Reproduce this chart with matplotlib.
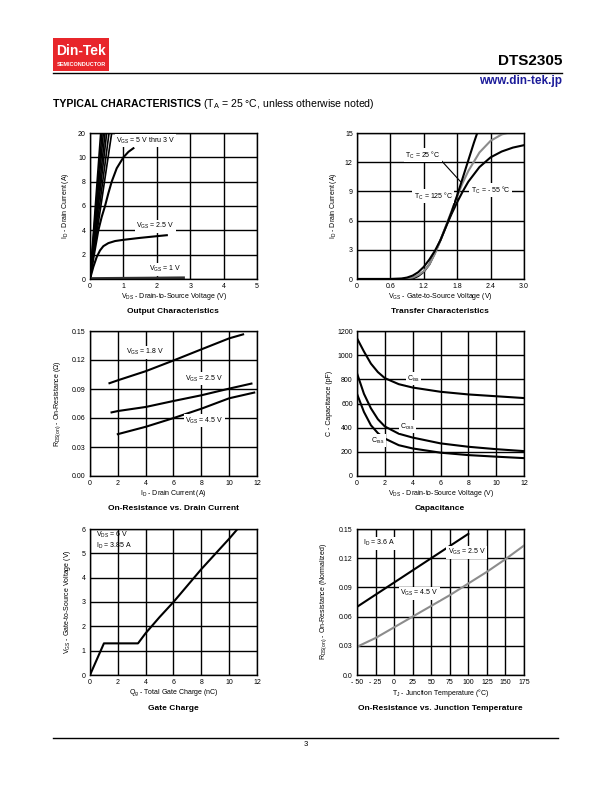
import matplotlib
matplotlib.use("Agg")
import matplotlib.pyplot as plt
from matplotlib.patches import Rectangle
from matplotlib.lines import Line2D

plt.rcParams['font.family'] = ['Liberation Sans', 'DejaVu Sans']
plt.rcParams['mathtext.fontset'] = 'custom'
plt.rcParams['mathtext.rm'] = 'Liberation Sans'
plt.rcParams['mathtext.it'] = 'Liberation Sans:italic'
plt.rcParams['mathtext.bf'] = 'Liberation Sans:bold'

# ---------------- data ----------------
# Output characteristics
out_xticks = [0, 1, 2, 3, 4, 5]
out_yticks = [0, 2, 4, 6, 8, 10, 12]
out_ytick_labels = ['0', '2', '4', '6', '8', '10', '20']
out_steep_x_end = [0.32, 0.36, 0.40, 0.45, 0.50, 0.57, 0.65]
out_steep_y_end = 12
out_v3_x = [0, 0.12, 0.25, 0.35, 0.45, 0.55, 0.65, 0.8, 1.0, 1.15, 1.3]
out_v3_y = [0, 2.0, 4.0, 5.1, 6.0, 7.05, 8.0, 9.1, 10.0, 10.45, 10.75]
out_v25_x = [0, 0.1, 0.2, 0.3, 0.4, 0.55, 0.75, 1.0, 1.5, 2.0, 2.3]
out_v25_y = [0, 1.0, 1.8, 2.35, 2.7, 2.95, 3.12, 3.22, 3.38, 3.52, 3.6]
out_v1_x = [0, 1.0, 2.0, 2.8]
out_v1_y = [0.04, 0.06, 0.08, 0.1]

# Transfer characteristics
tr_xticks = [0, 0.6, 1.2, 1.8, 2.4, 3.0]
tr_xtick_labels = ['0', '0.6', '1.2', '1.8', '2.4', '3.0']
tr_yticks = [0, 3, 6, 9, 12, 15]
tr_steep_x = [0, 0.6, 0.8, 0.9, 1.0, 1.1, 1.2, 1.3, 1.4, 1.5, 1.6, 1.7, 1.8, 1.9, 2.0, 2.1, 2.16]
tr_steep_y = [0, 0, 0.05, 0.15, 0.35, 0.7, 1.25, 2.0, 2.9, 4.0, 5.4, 6.9, 8.6, 10.4, 12.2, 14.0, 15.0]
tr_gray_x = [0, 0.8, 0.9, 1.0, 1.1, 1.2, 1.3, 1.4, 1.5, 1.6, 1.7, 1.8, 1.9, 2.0, 2.2, 2.4, 2.6, 2.7]
tr_gray_y = [0, 0, 0.05, 0.15, 0.4, 0.8, 1.5, 2.6, 4.0, 5.5, 7.0, 8.5, 9.9, 11.1, 13.0, 14.2, 14.85, 15.0]
tr_flat_x = [0, 0.9, 1.0, 1.1, 1.2, 1.3, 1.4, 1.5, 1.6, 1.7, 1.8, 1.9, 2.0, 2.2, 2.4, 2.6, 2.8, 3.0]
tr_flat_y = [0, 0, 0.05, 0.3, 0.75, 1.5, 2.7, 4.0, 5.4, 6.7, 7.9, 9.0, 10.0, 11.5, 12.5, 13.1, 13.5, 13.75]

# On-resistance vs drain current
rid_xticks = [0, 2, 4, 6, 8, 10, 12]
rid_yticks = [0.0, 0.03, 0.06, 0.09, 0.12, 0.15]
rid_ytick_labels = ['0.00', '0.03', '0.06', '0.09', '0.12', '0.15']
rid_v18_x = [1.4, 2, 4, 6, 8, 10, 11.0]
rid_v18_y = [0.096, 0.099, 0.1084, 0.1195, 0.131, 0.1424, 0.1465]
rid_v25_x = [1.55, 2, 4, 6, 8, 10, 11.6]
rid_v25_y = [0.0658, 0.0672, 0.0714, 0.0776, 0.0835, 0.0904, 0.0956]
rid_v45_x = [2.0, 4, 6, 8, 10, 11.8]
rid_v45_y = [0.0433, 0.0509, 0.0599, 0.0696, 0.0804, 0.0863]

# Capacitance
cap_xticks = [0, 2, 4, 6, 8, 10, 12]
cap_yticks = [0, 200, 400, 600, 800, 1000, 1200]
cap_x = [0, 0.5, 1, 1.5, 2, 3, 4, 6, 8, 10, 12]
cap_ciss = [1140, 1030, 930, 860, 810, 760, 732, 697, 675, 660, 645]
cap_coss = [850, 680, 560, 470, 410, 350, 318, 270, 242, 222, 206]
cap_crss = [680, 530, 420, 355, 310, 255, 228, 193, 173, 160, 148]

# Gate charge
gc_xticks = [0, 2, 4, 6, 8, 10, 12]
gc_yticks = [0, 1, 2, 3, 4, 5, 6]
gc_x = [0, 1.0, 3.45, 4.0, 5.0, 6.0, 8.0, 10.0, 10.6]
gc_y = [0, 1.3, 1.3, 1.72, 2.38, 3.0, 4.35, 5.6, 6.0]

# On-resistance vs junction temperature
rt_xticks = [-50, -25, 0, 25, 50, 75, 100, 125, 150, 175]
rt_xtick_labels = ['- 50', '- 25', '0', '25', '50', '75', '100', '125', '150', '175']
rt_yticks = [0.0, 0.03, 0.06, 0.09, 0.12, 0.15]
rt_ytick_labels = ['0.0', '0.03', '0.06', '0.09', '0.12', '0.15']
rt_v25_x = [-50, 0, 50, 100]
rt_v25_y = [0.070, 0.095, 0.120, 0.145]
rt_v45_x = [-50, -25, 0, 25, 50, 75, 100, 125, 150, 175]
rt_v45_y = [0.029, 0.038, 0.049, 0.060, 0.071, 0.082, 0.094, 0.106, 0.119, 0.133]

# ---------------- figure ----------------
W, H = 612, 792
fig = plt.figure(figsize=(W / 100, H / 100), dpi=100)
fig.patch.set_facecolor('white')

def fx(px):
    return px / W

def fy(py):
    return 1 - py / H

TICK_FS = 5
LAB_FS = 5
LW = 1.5
GRAY = '#8c8c8c'

def make_ax(left, top, right, bottom, xlim, ylim, xticks, yticks, xtl=None, ytl=None):
    ax = fig.add_axes([fx(left), fy(bottom), fx(right - left), (bottom - top) / H])
    ax.set_xlim(*xlim)
    ax.set_ylim(*ylim)
    ax.set_xticks(xticks)
    ax.set_yticks(yticks)
    if xtl is not None:
        ax.set_xticklabels(xtl)
    if ytl is not None:
        ax.set_yticklabels(ytl)
    ax.tick_params(length=0, labelsize=TICK_FS, pad=3, colors='black')
    ax.grid(True, color='black', linewidth=1.0)
    ax.set_axisbelow(True)
    for s in ax.spines.values():
        s.set_linewidth(1.0)
    return ax

def label(ax, x, y, s, ha='left'):
    ax.text(x, y, s, fontsize=LAB_FS, ha=ha, va='center', zorder=5,
            bbox=dict(facecolor='white', edgecolor='none', pad=1.0))

def axlabels(ax, xl, yl, ylx):
    ax.set_xlabel(xl, fontsize=LAB_FS)
    ax.xaxis.set_label_coords(0.5, -0.085)
    ax.set_ylabel(yl, fontsize=LAB_FS)
    ax.yaxis.set_label_coords(ylx, 0.5)

L0, L1 = 90, 257
R0, R1 = 357, 524
ROWS = [(133, 279), (331, 476), (529, 675)]

# 1. Output characteristics
ax1 = make_ax(L0, ROWS[0][0], L1, ROWS[0][1], (0, 5), (0, 12), out_xticks, out_yticks,
              ytl=out_ytick_labels)
for xe in out_steep_x_end:
    ax1.plot([0, xe], [0, out_steep_y_end], color='black', lw=1.2, solid_capstyle='butt')
ax1.plot(out_v3_x, out_v3_y, color='black', lw=LW)
ax1.plot(out_v25_x, out_v25_y, color='black', lw=LW)
ax1.plot(out_v1_x, out_v1_y, color='#333333', lw=2.0)
label(ax1, 0.78, 11.35, r'V$_{\rm GS}$ = 5 V thru 3 V')
label(ax1, 1.38, 4.35, r'V$_{\rm GS}$ = 2.5 V')
label(ax1, 1.78, 0.8, r'V$_{\rm GS}$ = 1 V')
axlabels(ax1, r'V$_{\rm DS}$ - Drain-to-Source Voltage (V)', r'I$_{\rm D}$ - Drain Current (A)', -0.114)

# 2. Transfer characteristics
ax2 = make_ax(R0, ROWS[0][0], R1, ROWS[0][1], (0, 3.0), (0, 15), tr_xticks, tr_yticks,
              xtl=tr_xtick_labels)
ax2.plot(tr_flat_x, tr_flat_y, color='black', lw=LW)
ax2.plot(tr_gray_x, tr_gray_y, color=GRAY, lw=LW)
ax2.plot(tr_steep_x, tr_steep_y, color='black', lw=LW)
ax2.plot([1.47, 1.86], [12.45, 10.0], color='black', lw=0.8)
label(ax2, 0.87, 12.7, r'T$_{\rm C}$ = 25 °C')
label(ax2, 1.02, 8.5, r'T$_{\rm C}$ = 125 °C')
label(ax2, 2.04, 9.1, r'T$_{\rm C}$ = - 55 °C')
axlabels(ax2, r'V$_{\rm GS}$ - Gate-to-Source Voltage (V)', r'I$_{\rm D}$ - Drain Current (A)', -0.108)

# 3. On-resistance vs drain current
ax3 = make_ax(L0, ROWS[1][0], L1, ROWS[1][1], (0, 12), (0, 0.15), rid_xticks, rid_yticks,
              ytl=rid_ytick_labels)
ax3.plot(rid_v18_x, rid_v18_y, color='black', lw=LW)
ax3.plot(rid_v25_x, rid_v25_y, color='black', lw=LW)
ax3.plot(rid_v45_x, rid_v45_y, color='black', lw=LW)
label(ax3, 2.6, 0.128, r'V$_{\rm GS}$ = 1.8 V')
label(ax3, 6.85, 0.1005, r'V$_{\rm GS}$ = 2.5 V')
label(ax3, 6.85, 0.057, r'V$_{\rm GS}$ = 4.5 V')
axlabels(ax3, r'I$_{\rm D}$ - Drain Current (A)', r'R$_{\rm DS(on)}$ - On-Resistance (Ω)', -0.16)

# 4. Capacitance
ax4 = make_ax(R0, ROWS[1][0], R1, ROWS[1][1], (0, 12), (0, 1200), cap_xticks, cap_yticks)
ax4.plot(cap_x, cap_ciss, color='black', lw=LW)
ax4.plot(cap_x, cap_coss, color='black', lw=LW)
ax4.plot(cap_x, cap_crss, color='black', lw=LW)
label(ax4, 3.6, 806, r'C$_{\rm iss}$')
label(ax4, 3.1, 407, r'C$_{\rm oss}$')
label(ax4, 1.0, 292, r'C$_{\rm rss}$')
axlabels(ax4, r'V$_{\rm DS}$ - Drain-to-Source Voltage (V)', r'C - Capacitance (pF)', -0.144)

# 5. Gate charge
ax5 = make_ax(L0, ROWS[2][0], L1, ROWS[2][1], (0, 12), (0, 6), gc_xticks, gc_yticks)
ax5.plot(gc_x, gc_y, color='black', lw=LW)
ax5.text(0.42, 5.76, r'V$_{\rm DS}$ = 6 V', fontsize=LAB_FS, va='center')
ax5.text(0.42, 5.30, r'I$_{\rm D}$ = 3.85 A', fontsize=LAB_FS, va='center')
axlabels(ax5, r'Q$_{\rm g}$ - Total Gate Charge (nC)', r'V$_{\rm GS}$ - Gate-to-Source Voltage (V)', -0.10)

# 6. On-resistance vs junction temperature
ax6 = make_ax(R0, ROWS[2][0], R1, ROWS[2][1], (-50, 175), (0, 0.15), rt_xticks, rt_yticks,
              xtl=rt_xtick_labels, ytl=rt_ytick_labels)
ax6.plot(rt_v25_x, rt_v25_y, color='black', lw=LW)
ax6.plot(rt_v45_x, rt_v45_y, color=GRAY, lw=LW)
label(ax6, -42, 0.1355, r'I$_{\rm D}$ = 3.6 A')
label(ax6, 72, 0.126, r'V$_{\rm GS}$ = 2.5 V')
label(ax6, 8, 0.084, r'V$_{\rm GS}$ = 4.5 V')
axlabels(ax6, r'T$_{\rm J}$ - Junction Temperature (°C)', r'R$_{\rm DS(on)}$ - On-Resistance (Normalized)', -0.165)

# chart titles
titles = [(173, 311, 'Output Characteristics'), (440, 311, 'Transfer Characteristics'),
          (173, 509, 'On-Resistance vs. Drain Current'), (440, 509, 'Capacitance'),
          (173, 708, 'Gate Charge'), (440, 708, 'On-Resistance vs. Junction Temperature')]
for x, y, t in titles:
    fig.text(fx(x), fy(y), t, fontsize=6, fontweight='bold', ha='center', va='center')

# header
fig.patches.append(Rectangle((fx(53), fy(71)), fx(109) - fx(53), fy(38) - fy(71),
                             transform=fig.transFigure, facecolor='#e8262b', edgecolor='none'))
fig.text(fx(81), fy(51), 'Din-Tek', fontsize=10, fontweight='bold', color='white',
         ha='center', va='center')
fig.text(fx(81), fy(64), 'SEMICONDUCTOR', fontsize=4, fontweight='bold', color='white',
         ha='center', va='center')
fig.text(fx(562), fy(61), 'DTS2305', fontsize=11, fontweight='bold', ha='right', va='center')
fig.lines.append(Line2D([fx(53), fx(562)], [fy(72.5), fy(72.5)], transform=fig.transFigure,
                        color='black', lw=1.0))
fig.text(fx(562), fy(81), 'www.din-tek.jp', fontsize=8.5, fontweight='bold', color='#1c1c9a',
         ha='right', va='center')
fig.text(fx(53), fy(104), r'TYPICAL CHARACTERISTICS', fontsize=7.6, fontweight='bold',
         ha='left', va='center')
fig.text(fx(203), fy(104), r'(T$_{\rm A}$ = 25 °C, unless otherwise noted)', fontsize=7.6,
         ha='left', va='center')

# footer
fig.lines.append(Line2D([fx(53), fx(558)], [fy(737.5), fy(737.5)], transform=fig.transFigure,
                        color='black', lw=1.0))
fig.text(fx(306), fy(744), '3', fontsize=5.5, ha='center', va='center')

fig.savefig('out.png', dpi=100)
